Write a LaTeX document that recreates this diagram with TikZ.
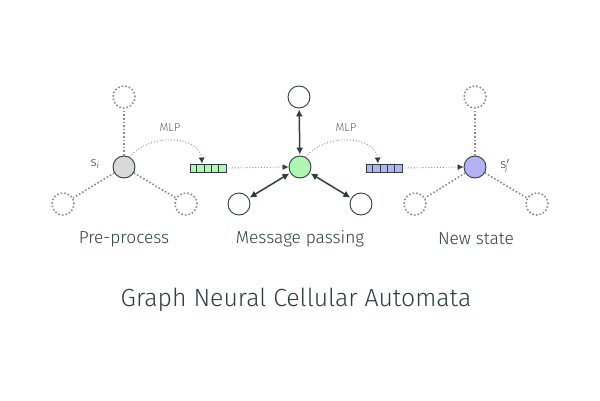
\documentclass[tikz,border=0pt]{standalone}
\usepackage{fontspec}
\setmainfont{Fira Sans Light}
\usetikzlibrary{arrows.meta,calc}
\definecolor{ink}{RGB}{45,62,64}
\definecolor{dotg}{RGB}{140,140,140}
\definecolor{nodegray}{RGB}{217,217,217}
\definecolor{nodegreen}{RGB}{176,245,176}
\definecolor{nodepurple}{RGB}{178,178,245}
\tikzset{
  cell/.style={circle,draw=ink,line width=0.9pt,minimum size=22pt,inner sep=0pt},
  ghost/.style={circle,draw=dotg,line width=1.6pt,dotted,minimum size=22pt,inner sep=0pt},
  spoke/.style={draw=dotg,line width=1.6pt,dotted},
  flow/.style={draw=dotg,line width=0.9pt,dotted,-{Latex[length=6pt,width=6pt,color=ink]}},
  msg/.style={draw=ink,line width=1.5pt,{Latex[length=7pt,width=7pt]}-{Latex[length=7pt,width=7pt]},shorten <=1pt,shorten >=1pt},
  vecbox/.style={rectangle,draw=ink,line width=0.8pt,minimum width=36pt,minimum height=8pt,inner sep=0pt},
  lbl/.style={text=ink,font=\fontsize{17.3}{17.3}\selectfont},
  small/.style={text=ink!80,font=\fontsize{11.5}{11.5}\selectfont}
}
\begin{document}
\begin{tikzpicture}[x=1pt,y=-1pt]
\useasboundingbox (0,0) rectangle (600,400);
% left cluster
\node[ghost] (lt) at (124,97) {};
\node[ghost] (lbl) at (63,204) {};
\node[ghost] (lbr) at (186,204) {};
\node[cell,fill=nodegray] (lc) at (124,167) {};
\draw[spoke] (lc) -- (lt);
\draw[spoke] (lc) -- (lbl);
\draw[spoke] (lc) -- (lbr);
\node[text=ink,font=\fontsize{13}{13}\selectfont] (si) at (95,164) {s\textsubscript{\itshape i}};
% green vector
\node[vecbox,fill=nodegreen] (gv) at (208,168) {};
\foreach \k in {1,2,3,4} \draw[ink,line width=0.8pt] ($(gv.south west)+(7.2*\k,0)$) -- ($(gv.north west)+(7.2*\k,0)$);
\node[small] (mlp1) at (170,128) {MLP};
\draw[flow] (lc.60) .. controls (150,132) and (200,136) .. ([xshift=-6pt]gv.north);
% middle cluster
\node[cell,fill=nodegreen] (mc) at (300,167) {};
\node[cell] (mt) at (299,97) {};
\node[cell] (mbl) at (239,204) {};
\node[cell] (mbr) at (361,204) {};
\draw[msg] (mc) -- (mt);
\draw[msg] (mc) -- (mbl);
\draw[msg] (mc) -- (mbr);
\draw[flow] (gv.east) -- (mc.west);
% purple vector
\node[vecbox,fill=nodepurple] (pv) at (384,168) {};
\foreach \k in {1,2,3,4} \draw[ink,line width=0.8pt] ($(pv.south west)+(7.2*\k,0)$) -- ($(pv.north west)+(7.2*\k,0)$);
\node[small] (mlp2) at (346,128) {MLP};
\draw[flow] (mc.60) .. controls (326,132) and (376,136) .. ([xshift=-6pt]pv.north);
% right cluster
\node[ghost] (rt) at (475,97) {};
\node[ghost] (rbl) at (415,204) {};
\node[ghost] (rbr) at (537,204) {};
\node[cell,fill=nodepurple] (rc) at (475,167) {};
\draw[spoke] (rc) -- (rt);
\draw[spoke] (rc) -- (rbl);
\draw[spoke] (rc) -- (rbr);
\draw[flow] (pv.east) -- (rc.west);
\node[text=ink,font=\fontsize{13}{13}\selectfont] (sip) at (505,166) {s$'_{\!\mathit{i}}$};
% labels
\node[lbl] (l1) at (124,239) {Pre-process};
\node[lbl] (l2) at (300,239) {Message passing};
\node[lbl] (l3) at (476,239) {New state};
\node[text=ink,font=\fontsize{24.8}{24.8}\selectfont] (title) at (296,300) {Graph Neural Cellular Automata};
\end{tikzpicture}
\end{document}
